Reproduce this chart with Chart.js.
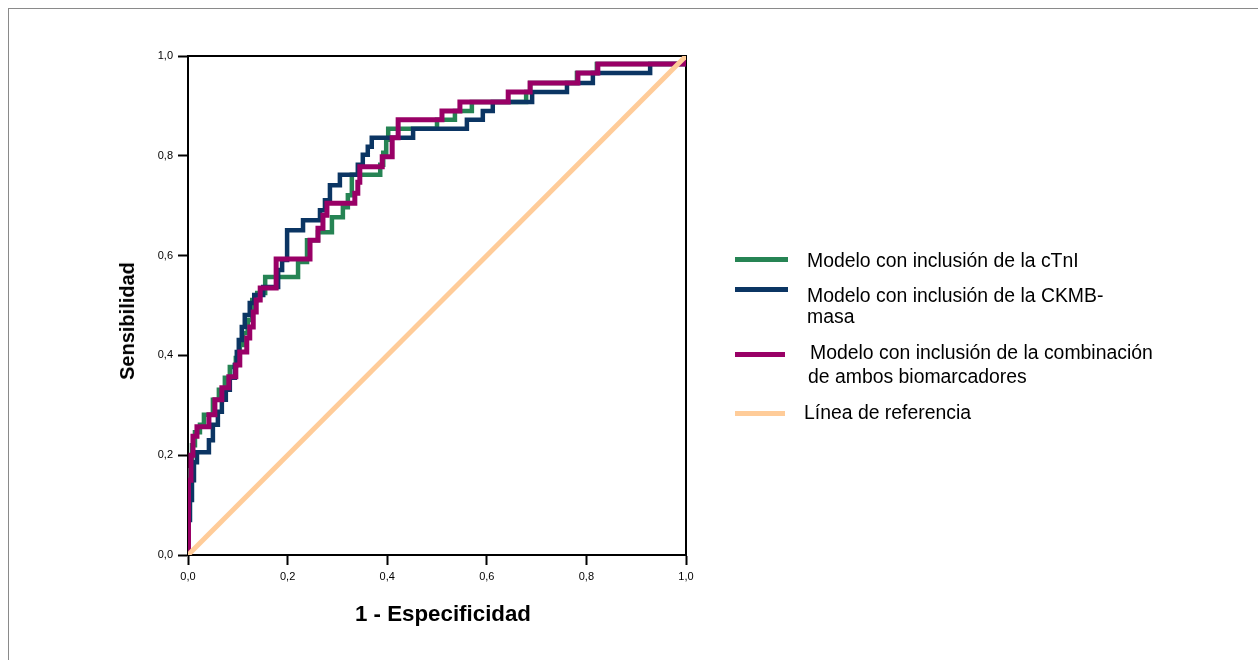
<!DOCTYPE html>
<html>
<head>
<meta charset="utf-8">
<script src="https://cdn.jsdelivr.net/npm/chart.js@4.4.1/dist/chart.umd.min.js"></script>
<style>
  html, body { margin: 0; padding: 0; background: #ffffff; }
  #wrap { position: relative; width: 1258px; height: 660px; overflow: hidden; background: #fff; font-family: 'Liberation Sans', Arial, sans-serif; color: #000; }
  #outer { position: absolute; left: 8px; top: 8px; width: 1300px; height: 700px; border-left: 1px solid #8a8a8a; border-top: 1px solid #8a8a8a; }
  canvas { position: absolute; left: 0; top: 0; }
  .t { position: absolute; white-space: nowrap; font-size: 19.4px; line-height: 19px; }
  .sw { position: absolute; height: 5px; }
  #ytitle { position: absolute; left: 127px; top: 321px; transform: translate(-50%, -50%) rotate(-90deg); font-weight: bold; font-size: 20px; line-height: 20px; white-space: nowrap; }
  #xtitle { position: absolute; left: 443px; top: 603px; transform: translateX(-50%); font-weight: bold; font-size: 22.3px; line-height: 22px; white-space: nowrap; }
</style>
</head>
<body>
<div id="wrap">
  <div id="outer"></div>
  <canvas id="c" width="1258" height="660"></canvas>
  <div id="ytitle">Sensibilidad</div>
  <div id="xtitle">1 - Especificidad</div>
  <div id="legend"></div>
</div>
<script>
// ---- Data ----
const xTickLabels = ["0,0", "0,2", "0,4", "0,6", "0,8", "1,0"];
const yTickLabels = ["0,0", "0,2", "0,4", "0,6", "0,8", "1,0"];

const seriesNames = [
  "Modelo con inclusión de la cTnI",
  "Modelo con inclusión de la CKMB-masa",
  "Modelo con inclusión de la combinación de ambos biomarcadores",
  "Línea de referencia"
];

// Modelo con inclusión de la cTnI (1 - especificidad, sensibilidad)
const ctniFpr = [0, 0.001, 0.004, 0.008, 0.014, 0.024, 0.032, 0.050, 0.062, 0.074, 0.084, 0.096, 0.104, 0.110, 0.120, 0.129, 0.139, 0.155, 0.221, 0.239, 0.261, 0.289, 0.311, 0.321, 0.329, 0.386, 0.392, 0.398, 0.402, 0.500, 0.536, 0.570, 0.679, 0.687, 0.781, 0.821, 1.0];
const ctniTpr = [0, 0.110, 0.170, 0.220, 0.246, 0.261, 0.281, 0.311, 0.331, 0.355, 0.377, 0.395, 0.421, 0.445, 0.471, 0.511, 0.525, 0.557, 0.587, 0.631, 0.647, 0.677, 0.697, 0.721, 0.762, 0.782, 0.806, 0.832, 0.854, 0.872, 0.890, 0.908, 0.928, 0.946, 0.966, 0.984, 1.0];

// Modelo con inclusión de la CKMB-masa
const ckmbFpr = [0, 0.001, 0.004, 0.008, 0.012, 0.018, 0.042, 0.050, 0.060, 0.068, 0.076, 0.084, 0.094, 0.098, 0.102, 0.108, 0.114, 0.124, 0.133, 0.151, 0.181, 0.189, 0.199, 0.231, 0.265, 0.275, 0.285, 0.305, 0.341, 0.351, 0.361, 0.369, 0.452, 0.560, 0.592, 0.612, 0.691, 0.761, 0.813, 0.928, 1.0];
const ckmbTpr = [0, 0.070, 0.110, 0.150, 0.186, 0.206, 0.230, 0.261, 0.287, 0.311, 0.331, 0.355, 0.381, 0.407, 0.431, 0.457, 0.481, 0.505, 0.521, 0.537, 0.571, 0.591, 0.651, 0.671, 0.691, 0.711, 0.741, 0.762, 0.782, 0.802, 0.818, 0.836, 0.854, 0.872, 0.890, 0.908, 0.928, 0.946, 0.966, 0.984, 1.0];

// Modelo con inclusión de la combinación de ambos biomarcadores
const comboFpr = [0, 0.001, 0.006, 0.010, 0.018, 0.042, 0.054, 0.068, 0.082, 0.096, 0.104, 0.118, 0.124, 0.131, 0.137, 0.145, 0.177, 0.245, 0.261, 0.271, 0.279, 0.335, 0.341, 0.345, 0.390, 0.410, 0.422, 0.510, 0.546, 0.643, 0.687, 0.783, 0.823, 1.0];
const comboTpr = [0, 0.150, 0.200, 0.238, 0.257, 0.281, 0.311, 0.335, 0.357, 0.381, 0.407, 0.435, 0.457, 0.487, 0.511, 0.535, 0.593, 0.631, 0.655, 0.681, 0.705, 0.725, 0.747, 0.778, 0.798, 0.836, 0.872, 0.890, 0.908, 0.928, 0.946, 0.966, 0.984, 1.0];

// Línea de referencia
const refFpr = [0, 1];
const refTpr = [0, 1];

const colors = ["#268454", "#0b3563", "#990066", "#ffcc99"];

// ---- Build ----
const FONT = "'Liberation Sans', Arial, sans-serif";
const toPts = (xs, ys) => xs.map((x, i) => ({ x: x, y: ys[i] }));

const framePlugin = {
  id: 'frame',
  beforeDatasetsDraw(chart) {
    const { ctx, chartArea: a } = chart;
    ctx.save();
    ctx.strokeStyle = '#000';
    ctx.lineWidth = 2;
    ctx.strokeRect(a.left, a.top, a.right - a.left, a.bottom - a.top);
    ctx.restore();
  }
};

// lower "order" is drawn on top
const lineDs = (i, data, w, stepped, order) => ({
  label: seriesNames[i],
  data: data,
  order: order,
  borderColor: colors[i],
  backgroundColor: colors[i],
  borderWidth: w,
  stepped: stepped,
  pointRadius: 0,
  pointHoverRadius: 0,
  fill: false,
  tension: 0,
  borderJoinStyle: 'miter',
  borderCapStyle: 'butt'
});

function axis(labels, fitFn) {
  return {
    type: 'linear', min: 0, max: 1,
    afterFit: fitFn,
    ticks: {
      stepSize: 0.2, autoSkip: false, maxRotation: 0,
      callback: (v, i) => labels[i],
      font: { family: FONT, size: 11 }, color: '#000', padding: 5
    },
    grid: { drawOnChartArea: false, drawTicks: true, tickLength: 10, tickColor: '#000', tickWidth: 2, color: '#000' },
    border: { display: true, color: '#000', width: 2 }
  };
}

new Chart(document.getElementById('c').getContext('2d'), {
  type: 'line',
  data: {
    datasets: [
      lineDs(0, toPts(ctniFpr, ctniTpr), 4.5, 'before', 3),
      lineDs(1, toPts(ckmbFpr, ckmbTpr), 4.5, 'before', 2),
      lineDs(2, toPts(comboFpr, comboTpr), 5, 'before', 1),
      lineDs(3, toPts(refFpr, refTpr), 5, false, 0)
    ]
  },
  options: {
    responsive: false, animation: false, devicePixelRatio: 1,
    layout: { padding: { left: 0, top: 56, right: 572, bottom: 0 } },
    plugins: { legend: { display: false }, tooltip: { enabled: false } },
    scales: {
      x: axis(xTickLabels, s => { s.height = 105; }),
      y: axis(yTickLabels, s => { s.width = 188; })
    }
  },
  plugins: [framePlugin]
});

// ---- HTML legend ----
const legendItems = [
  { c: 0, sw: [735, 257, 53], lines: [["Modelo con inclusión de la cTnI", 807, 251]] },
  { c: 1, sw: [735, 287, 53], lines: [["Modelo con inclusión de la CKMB-", 807, 286], ["masa", 807, 307]] },
  { c: 2, sw: [735, 352, 50], lines: [["Modelo con inclusión de la combinación", 810, 343], ["de ambos biomarcadores", 808, 367]] },
  { c: 3, sw: [735, 411, 50], lines: [["Línea de referencia", 804, 403]] }
];
const lg = document.getElementById('legend');
legendItems.forEach(it => {
  const s = document.createElement('div');
  s.className = 'sw';
  s.style.left = it.sw[0] + 'px'; s.style.top = it.sw[1] + 'px'; s.style.width = it.sw[2] + 'px';
  s.style.background = colors[it.c];
  lg.appendChild(s);
  it.lines.forEach(l => {
    const d = document.createElement('div');
    d.className = 't';
    d.textContent = l[0];
    d.style.left = l[1] + 'px'; d.style.top = l[2] + 'px';
    lg.appendChild(d);
  });
});
</script>
</body>
</html>
